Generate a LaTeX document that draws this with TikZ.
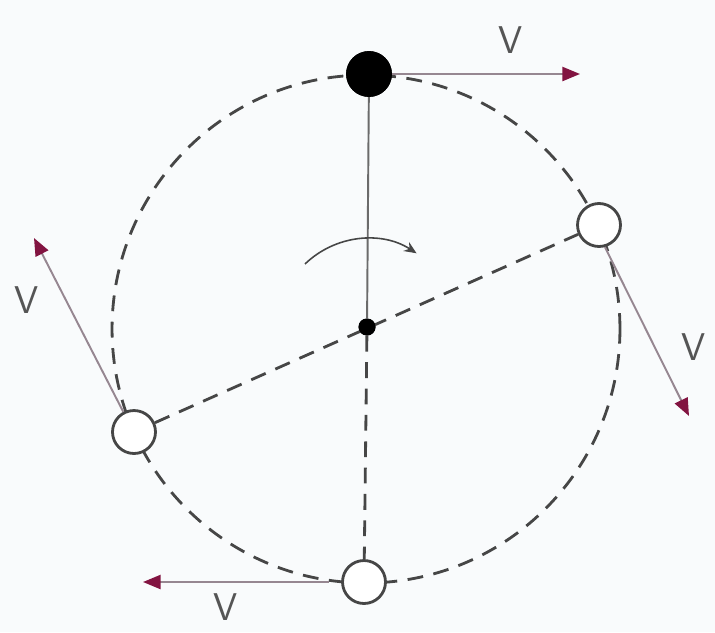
\documentclass[tikz,border=0pt]{standalone}
\usepackage{tikz}
\usetikzlibrary{arrows.meta,positioning,calc}
\definecolor{bgpaper}{RGB}{249,251,252}
\definecolor{linegrey}{RGB}{70,70,70}
\definecolor{vecline}{RGB}{150,135,145}
\definecolor{vectip}{RGB}{130,20,65}
\definecolor{labelgrey}{RGB}{85,85,85}

\begin{document}
\begin{tikzpicture}[
  x=0.02cm, y=-0.02cm,
  ball/.style={circle, draw=linegrey, line width=1.6pt, fill=white, minimum size=0.86cm, inner sep=0pt},
  heavy/.style={ball, fill=black, draw=black},
  pivotdot/.style={circle, fill=black, minimum size=0.34cm, inner sep=0pt},
  dashline/.style={dash pattern=on 9pt off 6pt, line width=1.6pt, linegrey},
  vel/.style={-{Triangle[length=10pt,width=8pt,fill=vectip,color=vectip]}, line width=1.1pt, vecline},
  vlabel/.style={font=\sffamily\fontsize{22}{22}\selectfont, text=labelgrey, inner sep=0pt}
]
\fill[bgpaper] (0,0) rectangle (715,632);
\useasboundingbox (0,0) rectangle (715,632);

% orbit
\draw[dashline] (366,329) circle[radius=5.08cm];

\node[pivotdot] (pivot) at (367,327) {};
\node[heavy] (ballTop) at (369,74) {};
\node[ball] (ballRight) at (599,225) {};
\node[ball] (ballLeft) at (134,432) {};
\node[ball] (ballBottom) at (364,582) {};

% rods
\draw[line width=1.1pt, linegrey!80] (ballTop) -- (pivot);
\draw[dashline] (ballLeft) -- (ballRight);
\draw[dashline] (pivot) -- (ballBottom);
\node[heavy] at (ballTop) {};
\node[pivotdot] at (pivot) {};

% sense of rotation
\draw[line width=0.9pt, linegrey, -{Stealth[length=7pt,width=6pt]}] (305,264) arc[start angle=134, end angle=57, radius=1.8cm];

% velocities
\coordinate (tipTop) at (580,74);
\coordinate (tipRight) at (689,416);
\coordinate (tipLeft) at (34,238);
\coordinate (tipBottom) at (143,582);
\draw[vel] (ballTop.east) -- (tipTop);
\draw[vel] (ballRight.-75) -- (tipRight);
\draw[vel] (ballLeft.118) -- (tipLeft);
\draw[vel] ([xshift=-0.25cm]ballBottom.west) -- (tipBottom);

\node[vlabel] (vTop) at (511,40) {V};
\node[vlabel] (vRight) at (694,347) {V};
\node[vlabel] (vLeft) at (27,300) {V};
\node[vlabel] (vBottom) at (226,607) {V};
\end{tikzpicture}
\end{document}
